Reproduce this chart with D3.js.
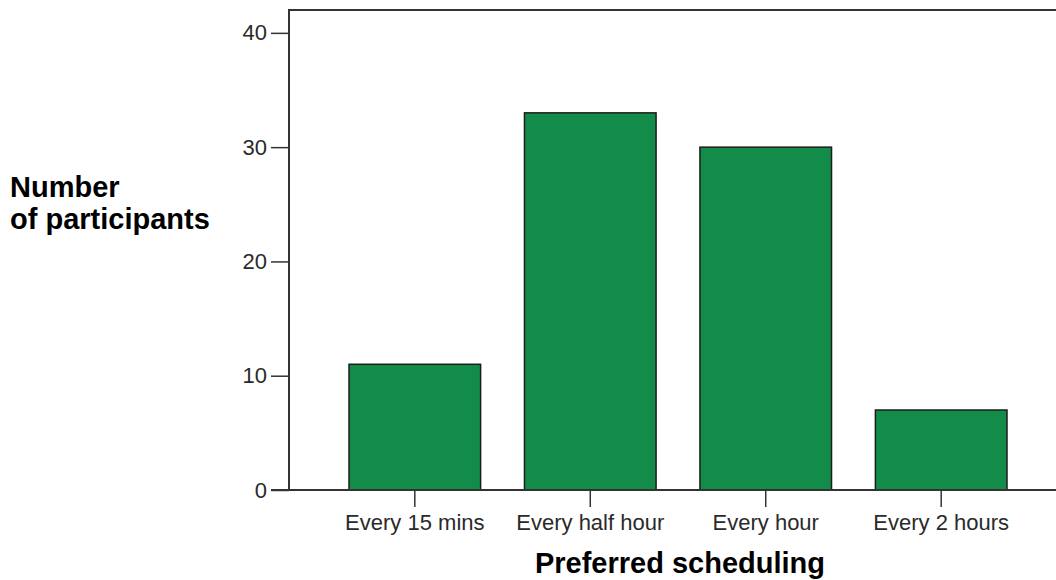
<!DOCTYPE html>
<html>
<head>
<meta charset="utf-8">
<script src="https://cdn.jsdelivr.net/npm/d3@7"></script>
<style>
  html, body { margin: 0; padding: 0; background: #fff; }
  svg { display: block; }
</style>
</head>
<body>
<svg id="chart" width="1056" height="580"></svg>
<script>
const categories = ["Every 15 mins", "Every half hour", "Every hour", "Every 2 hours"];
const values = [11, 33, 30, 7];
const yTicks = [0, 10, 20, 30, 40];
const xTitle = "Preferred scheduling";
const yTitleLines = ["Number", "of participants"];

(function () {
const svg = d3.select("#chart");
const pLeft = 289, pRight = 1067, pTop = 10, pBottom = 490;

const x = d3.scaleBand().domain(categories).range([pLeft, pRight])
  .paddingInner(0.25).paddingOuter(0.342);
const y = d3.scaleLinear().domain([0, 42]).range([pBottom, pTop]);

// bars
svg.append("g").selectAll("rect").data(values).join("rect")
  .attr("x", (d, i) => x(categories[i]))
  .attr("y", d => y(d))
  .attr("width", x.bandwidth())
  .attr("height", d => y(0) - y(d))
  .attr("fill", "#138c4a")
  .attr("stroke", "#1c1c1c")
  .attr("stroke-width", 1.5);

// frame: left and top
svg.append("line").attr("x1", pLeft).attr("x2", pLeft).attr("y1", pTop).attr("y2", pBottom)
  .attr("stroke", "#333").attr("stroke-width", 2);
svg.append("line").attr("x1", pLeft - 1).attr("x2", 1056).attr("y1", pTop).attr("y2", pTop)
  .attr("stroke", "#333").attr("stroke-width", 2);

// y axis
const yAxis = svg.append("g").attr("transform", `translate(${pLeft},0)`)
  .call(d3.axisLeft(y).tickValues(yTicks).tickSize(18).tickPadding(4).tickFormat(d3.format("d")));
yAxis.select(".domain").remove();
yAxis.selectAll(".tick line").attr("stroke", "#333").attr("stroke-width", 1.5);
yAxis.selectAll("text").attr("font-family", "Liberation Sans, Arial, sans-serif")
  .attr("font-size", 22).attr("fill", "#2a2a2a");

// x axis
const xAxis = svg.append("g").attr("transform", `translate(0,${pBottom})`)
  .call(d3.axisBottom(x).tickSize(17).tickPadding(7).tickSizeOuter(0));
xAxis.select(".domain").remove();
xAxis.selectAll(".tick line").attr("stroke", "#333").attr("stroke-width", 1.5);
xAxis.selectAll("text").attr("font-family", "Liberation Sans, Arial, sans-serif")
  .attr("font-size", 22).attr("fill", "#2a2a2a");
svg.append("line").attr("x1", pLeft - 18).attr("x2", 1056).attr("y1", pBottom).attr("y2", pBottom)
  .attr("stroke", "#333").attr("stroke-width", 2);

// titles
svg.append("text").attr("x", 680).attr("y", 573).attr("text-anchor", "middle")
  .attr("font-family", "Liberation Sans, Arial, sans-serif").attr("font-weight", "bold")
  .attr("font-size", 29).attr("fill", "#000").text(xTitle);
svg.append("g").selectAll("text").data(yTitleLines).join("text")
  .attr("x", 10).attr("y", (d, i) => 197 + i * 32)
  .attr("font-family", "Liberation Sans, Arial, sans-serif").attr("font-weight", "bold")
  .attr("font-size", 29).attr("fill", "#000").text(d => d);
})();
</script>
</body>
</html>
